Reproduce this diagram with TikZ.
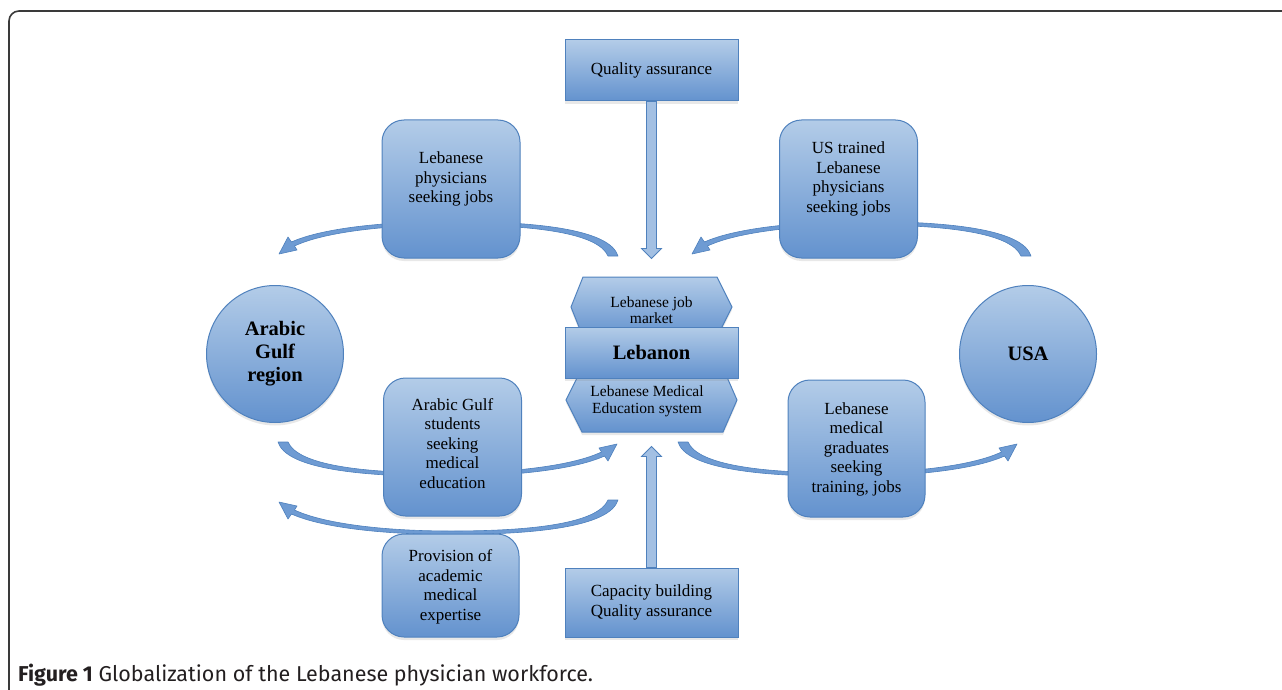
\documentclass[tikz,border=0pt]{standalone}
\usepackage{fontspec}
\setmainfont{Liberation Serif}
\newfontfamily\capfont{Fira Sans}
\usetikzlibrary{shadows}
\definecolor{bord}{HTML}{4F81BD}
\definecolor{ftop}{HTML}{B3CCE8}
\definecolor{fbot}{HTML}{6392CE}
\definecolor{arrfill}{HTML}{6E9BD3}
\definecolor{sarrfill}{HTML}{A3C0E3}
\definecolor{framecol}{HTML}{3A3A3A}
\definecolor{capcol}{HTML}{231F20}
\tikzset{
  box/.style={draw=bord, line width=1pt, top color=ftop, bottom color=fbot,
    drop shadow={shadow xshift=0pt, shadow yshift=-3pt, opacity=0.18}},
  rbox/.style={box, rounded corners=22pt, minimum width=138pt, minimum height=138pt, inner sep=0pt},
  sbox/.style={box, minimum width=173pt, inner sep=0pt},
  circ/.style={box, circle, minimum size=137pt, inner sep=0pt, align=center,
    font=\bfseries\fontsize{20.5}{23}\selectfont},
  txt/.style={align=center, font=\fontsize{17}{19.5}\selectfont, inner sep=0pt},
  smalltxt/.style={align=center, font=\fontsize{15.5}{16.5}\selectfont, inner sep=0pt},
  carrow/.style={fill=arrfill, draw=bord, line width=0.6pt, line join=round},
  sarrow/.style={fill=sarrfill, draw=bord, line width=0.8pt}
}
\newcommand{\curvedarrowpath}{%
  (618,256) .. controls (610,230) and (540,221.5) .. (451,221.5)
  .. controls (380,221.5) and (320,229) .. (291.5,242)
  -- (288,237) -- (279,254) -- (297,250) -- (294.5,246)
  .. controls (322,233) and (380,225) .. (451,225)
  .. controls (535,225) and (598,233) .. (608,256) -- cycle}
\begin{document}
\begin{tikzpicture}[x=1pt,y=-1pt]
\useasboundingbox (0,0) rectangle (1282,690);
% frame
\draw[framecol, line width=1.6pt, rounded corners=10pt] (1283,11) -- (9,11) -- (9,691);

% curved arrows (behind the boxes)
\path[carrow] \curvedarrowpath;
\begin{scope}[shift={(413,0)}]
  \path[carrow] \curvedarrowpath;
\end{scope}
\begin{scope}[shift={(896,698)}, xscale=-1, yscale=-1]
  \path[carrow] \curvedarrowpath;
\end{scope}
\begin{scope}[shift={(0,756)}, yscale=-1]
  \path[carrow] \curvedarrowpath;
\end{scope}
\begin{scope}[shift={(1296,698)}, xscale=-1, yscale=-1]
  \path[carrow] \curvedarrowpath;
\end{scope}

% Lebanon cluster
\path[box] (583,277) -- (717,277) -- (732,307) -- (717,337) -- (583,337) -- (571,307) -- cycle;
\path[box] (582,368) -- (723,368) -- (737,400) -- (723,432) -- (582,432) -- (566,400) -- cycle;
\node[smalltxt] (jobt) at (651.5,310) {Lebanese job\\market};
\node[sbox, minimum height=51pt, font=\bfseries\fontsize{20.5}{23}\selectfont] (leb) at (651.5,352.5) {Lebanon};
\node[smalltxt] (edut) at (647,401.5) {Lebanese Medical\\Education system};

% top and bottom boxes
\node[sbox, minimum height=61pt, font=\fontsize{17}{19.5}\selectfont] (qa) at (651.5,70.5) {Quality assurance};
\node[sbox, minimum height=69pt, align=center, font=\fontsize{17}{19.5}\selectfont] (capbox) at (651.5,602.5) {Capacity building\\Quality assurance};

% straight arrows
\path[sarrow] ([xshift=-5pt]qa.south) -- ++(10,0) -- ++(0,147) -- ++(5,0) -- ++(-10,10) -- ++(-10,-10) -- ++(5,0) -- cycle;
\path[sarrow] ([xshift=-5pt]capbox.north) -- ++(10,0) -- ++(0,-111) -- ++(5,0) -- ++(-10,-10) -- ++(-10,10) -- ++(5,0) -- cycle;

% rounded boxes
\node[rbox] (b1) at (451,189) {};
\node[txt] (b1t) at (451,179) {Lebanese\\physicians\\seeking jobs};
\node[rbox] (b2) at (848.5,189) {};
\node[txt] (b2t) at (848.5,179) {US trained\\Lebanese\\physicians\\seeking jobs};
\node[rbox] (b3) at (452.5,447) {};
\node[txt] (b3t) at (452.5,443.5) {Arabic Gulf\\students\\seeking\\medical\\education};
\node[rbox, minimum width=137pt, minimum height=103pt] (b4) at (450.5,585.5) {};
\node[txt] (b4t) at (450.5,587) {Provision of\\academic\\medical\\expertise};
\node[rbox, minimum width=137pt, minimum height=137pt] (b5) at (856.5,448.5) {};
\node[txt] (b5t) at (856.5,449) {Lebanese\\medical\\graduates\\seeking\\training, jobs};

% circles
\node[circ] (gulf) at (275,354) {Arabic\\Gulf\\region};
\node[circ] (usa) at (1028,354) {USA};

% caption
\node[anchor=base west, inner sep=0pt, text=capcol, font=\capfont\fontsize{21.5}{24}\selectfont] (figcap) at (18,681)
  {\textbf{Figure 1} Globalization of the Lebanese physician workforce.};
\end{tikzpicture}
\end{document}
